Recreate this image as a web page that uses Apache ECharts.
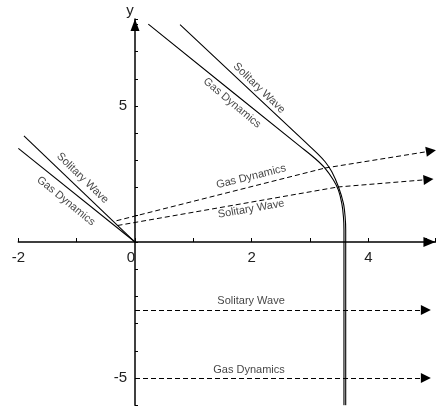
<!DOCTYPE html>
<html>
<head>
<meta charset="utf-8">
<script src="https://cdn.jsdelivr.net/npm/echarts@6/dist/echarts.min.js"></script>
<style>
  html, body { margin: 0; padding: 0; background: #fff; }
  #chart { width: 436px; height: 408px; }
</style>
</head>
<body>
<div id="chart"></div>
<script>
// Left-hand characteristics, both ending at the origin
const gasLeftX = [-2.0, 0];
const gasLeftY = [3.44, 0];
const solLeftX = [-1.904, 0];
const solLeftY = [3.90, 0];

// Right-hand boundary curves: straight descent bending down onto x ≈ 3.6
const gasRightX = [0.228, 2.830, 3.087, 3.259, 3.401, 3.487, 3.545, 3.573, 3.582, 3.582];
const gasRightY = [8.01, 3.515, 3.07, 2.71, 2.28, 1.91, 1.42, 0.93, 0.44, -6];
const solRightX = [0.772, 2.916, 3.137, 3.259, 3.374, 3.487, 3.573, 3.602, 3.612, 3.612];
const solRightY = [7.989, 3.68, 3.235, 2.952, 2.585, 2.033, 1.423, 0.93, 0.441, -6];

// Dashed rays: start, kink where they cross the boundary, arrow end
const gasRayX = [-0.317, 3.257, 5.074];
const gasRayY = [0.783, 2.72, 3.346];
const solRayX = [-0.300, 3.472, 5.031];
const solRayY = [0.607, 2.022, 2.298];

// Horizontal dashed levels
const solLevelX = [0, 4.986];
const solLevelY = [-2.5, -2.5];
const gasLevelX = [0, 4.986];
const gasLevelY = [-5, -5];

// Tick labels
const xTickLabels = [-2, 0, 2, 4];
const yTickLabels = [5, -5];

// Curve captions: text, anchor in axis units, rotation in degrees
const captions = [
  { text: 'Solitary Wave', at: [2.127, 5.66], angle: -44 },
  { text: 'Gas Dynamics', at: [1.664, 5.11], angle: -40 },
  { text: 'Solitary Wave', at: [-0.90, 2.35], angle: -44 },
  { text: 'Gas Dynamics', at: [-1.184, 1.507], angle: -39 },
  { text: 'Gas Dynamics', at: [1.99, 2.40], angle: 14 },
  { text: 'Solitary Wave', at: [1.99, 1.213], angle: 10 },
  { text: 'Solitary Wave', at: [1.99, -2.17], angle: 0 },
  { text: 'Gas Dynamics', at: [1.955, -4.71], angle: 0 }
];

const pairs = (xs, ys) => xs.map((x, i) => [x, ys[i]]);
const FONT = '"Liberation Sans", Arial, Helvetica, sans-serif';
const DASH = [5, 3];

// Axis ranges and the pixel frame they map onto
const X_MIN = -2, X_MAX = 5.15, Y_MIN = -6, Y_MAX = 8.2;
const GRID = { left: 18.33, top: 18.96, width: 417.1, height: 386.28 };
const zeroColumn = GRID.left + (0 - X_MIN) / (X_MAX - X_MIN) * GRID.width;
const zeroRow = GRID.top + (Y_MAX - 0) / (Y_MAX - Y_MIN) * GRID.height;

const solidLine = (xs, ys) => ({
  type: 'line',
  data: pairs(xs, ys),
  showSymbol: false,
  symbol: 'none',
  smooth: 0.3,
  lineStyle: { color: '#000', width: 1.1 },
  silent: true,
  animation: false,
  z: 3
});

// Dashed part of a ray before its last segment
const dashedLead = (xs, ys) => ({
  type: 'line',
  data: pairs(xs.slice(0, -1), ys.slice(0, -1)),
  showSymbol: false,
  symbol: 'none',
  lineStyle: { color: '#000', width: 1, type: DASH },
  silent: true,
  animation: false,
  z: 3
});

// Last segment of every ray, ending in an arrow head
const rays = [[gasRayX, gasRayY], [solRayX, solRayY], [solLevelX, solLevelY], [gasLevelX, gasLevelY]];
const arrowSegments = {
  type: 'lines',
  coordinateSystem: 'cartesian2d',
  data: rays.map(([xs, ys]) => {
    const n = xs.length;
    return { coords: [[xs[n - 2], ys[n - 2]], [xs[n - 1], ys[n - 1]]] };
  }),
  symbol: ['none', 'triangle'],
  symbolSize: [8, 10],
  lineStyle: { color: '#000', width: 1, type: DASH, opacity: 1 },
  silent: true,
  animation: false,
  z: 3
};

const chart = echarts.init(document.getElementById('chart'), null, { renderer: 'canvas' });

chart.setOption({
  animation: false,
  backgroundColor: '#fff',
  textStyle: { fontFamily: FONT },
  grid: {
    left: GRID.left, top: GRID.top, width: GRID.width, height: GRID.height,
    containLabel: false, outerBoundsMode: 'none'
  },
  xAxis: {
    type: 'value',
    min: X_MIN, max: X_MAX, interval: 1,
    position: 'bottom',
    offset: -(GRID.top + GRID.height - zeroRow),
    axisLine: {
      onZero: false,
      lineStyle: { color: '#000', width: 1.5 },
      symbol: ['none', 'triangle'],
      symbolSize: [10, 12],
      symbolOffset: [0, -6]
    },
    axisTick: { inside: true, length: 4, lineStyle: { color: '#000', width: 1 } },
    axisLabel: {
      fontSize: 15, color: '#222', margin: 8, fontFamily: FONT,
      showMinLabel: true, showMaxLabel: true, hideOverlap: false,
      formatter: v => (xTickLabels.indexOf(v) < 0 ? '' : (v === 0 ? '{z|0}' : String(v))),
      rich: { z: { fontSize: 15, color: '#222', fontFamily: FONT, padding: [0, 8, 0, 0] } }
    },
    splitLine: { show: false }
  },
  yAxis: {
    type: 'value',
    min: Y_MIN, max: Y_MAX, interval: 1,
    position: 'left',
    offset: -(zeroColumn - GRID.left),
    name: 'y',
    nameLocation: 'end',
    nameGap: 1,
    nameTextStyle: { fontSize: 15, color: '#222', fontFamily: FONT, padding: [0, 10, 0, 0] },
    axisLine: {
      onZero: false,
      lineStyle: { color: '#000', width: 1.5 },
      symbol: ['none', 'triangle'],
      symbolSize: [9, 12],
      symbolOffset: [0, -6]
    },
    axisTick: { inside: true, length: 3, lineStyle: { color: '#000', width: 1 } },
    axisLabel: {
      fontSize: 15, color: '#222', margin: 8, fontFamily: FONT,
      showMinLabel: true, showMaxLabel: true, hideOverlap: false,
      formatter: v => (yTickLabels.indexOf(v) < 0 ? '' : String(v))
    },
    splitLine: { show: false }
  },
  series: [
    solidLine(gasLeftX, gasLeftY),
    solidLine(solLeftX, solLeftY),
    solidLine(gasRightX, gasRightY),
    solidLine(solRightX, solRightY),
    dashedLead(gasRayX, gasRayY),
    dashedLead(solRayX, solRayY),
    arrowSegments,
    {
      type: 'scatter',
      symbolSize: 0,
      silent: true,
      animation: false,
      z: 4,
      data: captions.map(c => ({
        value: c.at,
        name: c.text,
        label: { rotate: c.angle }
      })),
      label: {
        show: true,
        position: 'inside',
        formatter: p => p.name,
        fontSize: 11,
        color: '#111',
        fontFamily: FONT,
        align: 'center',
        verticalAlign: 'middle'
      }
    }
  ]
});
</script>
</body>
</html>
